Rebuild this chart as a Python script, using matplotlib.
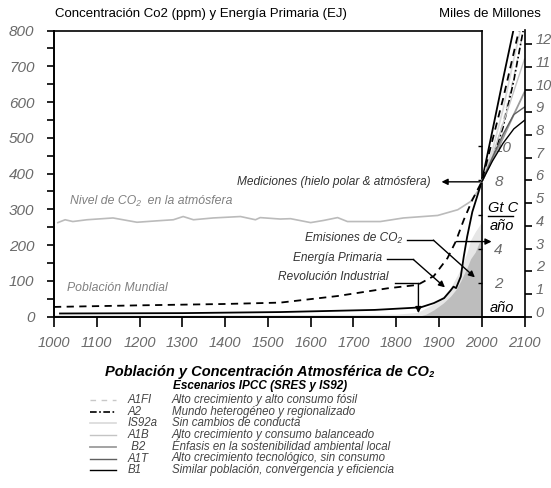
import matplotlib
matplotlib.use("Agg")
import matplotlib.pyplot as plt
from matplotlib.ticker import MultipleLocator, FixedLocator, NullFormatter

plt.rcParams['font.family'] = ['Liberation Sans', 'DejaVu Sans']

# ---------------- data ----------------
# atmospheric CO2 concentration (ppm), ice cores + atmosphere
co2_years = [1009, 1026, 1044, 1077, 1138, 1194, 1241, 1279, 1302, 1326, 1372, 1436,
             1471, 1482, 1529, 1553, 1600, 1630, 1663, 1686, 1763, 1817, 1897, 1944,
             1974, 1993, 2000]
co2_ppm = [263, 271, 266, 271, 276, 264, 268, 271, 280, 271, 276, 280,
           271, 277, 273, 274, 263, 269, 277, 266, 266, 276, 283, 299,
           322, 355, 377]

# primary energy (EJ), history and projection
energy_years = [1014, 1300, 1530, 1750, 1857, 1888, 1912, 1927, 1934, 1940, 1951,
                1958, 1966, 1978, 2000, 2025, 2050, 2075, 2100]
energy_ej = [9, 10, 13, 19, 26, 38, 52, 73, 84, 80, 112,
             168, 224, 293, 377, 520, 665, 806, 950]

# world population (billions), history and projection
pop_years = [1000, 1200, 1400, 1529, 1663, 1780, 1850, 1888, 1920, 1939, 1958,
             1978, 2000, 2050, 2087, 2100]
pop_bn = [0.43, 0.50, 0.56, 0.62, 0.91, 1.25, 1.40, 1.79, 2.58, 3.30, 4.26,
          5.14, 5.94, 9.6, 12.6, 13.4]

# CO2 emissions (Gt C / year)
emis_years = [1850, 1870, 1888, 1910, 1927, 1940, 1951, 1966, 1974, 1985, 1993, 2000]
emis_gtc = [0.0, 0.15, 0.4, 0.8, 1.2, 1.6, 2.1, 2.9, 3.4, 3.8, 4.3, 4.5]
emis_band_years = [1000, 1500, 1800, 1850, 1888, 1910, 1927, 1940, 1951, 1966, 1974,
                   1985, 1993, 2000]
emis_band_gtc = [0.12, 0.12, 0.15, 0.25, 0.75, 1.2, 1.7, 2.3, 2.8, 3.8, 4.5,
                 5.0, 5.3, 5.6]

# IPCC scenarios, CO2 concentration (ppm)
scen_years = [2000, 2025, 2050, 2075, 2100]
scen_codes = ['A1FI', 'A2', 'IS92a', 'A1B', ' B2', 'A1T', 'B1']
scen_desc = ['Alto crecimiento y alto consumo fósil',
             'Mundo heterogéneo y regionalizado',
             'Sin cambios de conducta',
             'Alto crecimiento y consumo balanceado',
             'Énfasis en la sostenibilidad ambiental local',
             'Alto crecimiento tecnológico, sin consumo',
             'Similar población, convergencia y eficiencia']
scen_a1fi = [377, 445, 545, 670, 815]
scen_a2 = [377, 440, 530, 660, 820]
scen_is92a = [377, 465, 580, 720, 850]
scen_a1b = [377, 450, 540, 630, 720]
scen_b2 = [377, 440, 500, 565, 628]
scen_a1t = [377, 445, 510, 565, 586]
scen_b1 = [377, 435, 485, 525, 549]
scen_values = [scen_a1fi, scen_a2, scen_is92a, scen_a1b, scen_b2, scen_a1t, scen_b1]

x_ticks = list(range(1000, 2101, 100))
pop_ticks = list(range(0, 13))

# ---------------- styles ----------------
scen_styles = [
    dict(color='#c8c8c8', lw=1.0, linestyle=(0, (4, 4))),
    dict(color='black', lw=1.2, linestyle=(0, (4, 1.5, 1, 1.5))),
    dict(color='#d9d9d9', lw=1.2, linestyle='-'),
    dict(color='#c4c4c4', lw=1.0, linestyle='-'),
    dict(color='#9c9c9c', lw=1.3, linestyle='-'),
    dict(color='#606060', lw=1.0, linestyle='-'),
    dict(color='black', lw=1.0, linestyle='-'),
]
TICK_GRAY = '#6a6a6a'
PPM_PER_BN = 63.5     # population axis scale relative to left axis
PPM_PER_GTC = 47.6    # emissions axis scale relative to left axis

W, H = 551, 488
fig = plt.figure(figsize=(W / 100, H / 100), dpi=100, facecolor='white')
left_px, right_px, top_px, bot_px = 54, 524.5, 30.5, 316.7
rect = [left_px / W, 1 - bot_px / H, (right_px - left_px) / W, (bot_px - top_px) / H]

ax_em = fig.add_axes(rect)
ax = fig.add_axes(rect)
ax_pop = fig.add_axes(rect)
for a in (ax_em, ax, ax_pop):
    a.set_xlim(1000, 2100)
    a.patch.set_visible(False)

# ---- emissions (inner axis at year 2000) ----
ax_em.set_ylim(0, 800 / PPM_PER_GTC)
ax_em.fill_between(emis_band_years, 0, emis_band_gtc, color='#e6e6e6', lw=0)
ax_em.fill_between(emis_years, 0, emis_gtc, color='#bdbdbd', lw=0)
for s in ('left', 'top', 'bottom'):
    ax_em.spines[s].set_visible(False)
ax_em.spines['right'].set_position(('data', 2000))
ax_em.spines['right'].set_linewidth(1.2)
ax_em.xaxis.set_visible(False)
ax_em.yaxis.tick_right()
ax_em.yaxis.set_major_locator(FixedLocator([2, 4, 6, 8, 10]))
ax_em.set_yticklabels(['2', '4', '', '8', '10'])
ax_em.tick_params(axis='y', direction='in', length=3, width=1, pad=9,
                  labelsize=11, labelcolor=TICK_GRAY)
for t in ax_em.get_yticklabels():
    t.set_fontstyle('italic')

# ---- main axis: ppm / EJ ----
ax.set_ylim(0, 800)
for s in ('top', 'right'):
    ax.spines[s].set_visible(False)
for s in ('left', 'bottom'):
    ax.spines[s].set_linewidth(1.4)
ax.set_xticks(x_ticks)
ax.yaxis.set_major_locator(MultipleLocator(100))
ax.yaxis.set_minor_locator(MultipleLocator(50))
ax.yaxis.set_minor_formatter(NullFormatter())
ax.tick_params(axis='x', direction='out', length=7, width=1.2, pad=7,
               labelsize=10.5, labelcolor=TICK_GRAY)
ax.tick_params(axis='y', which='both', direction='out', length=5, width=1.2, pad=9,
               labelsize=11, labelcolor=TICK_GRAY)
for t in ax.get_xticklabels() + ax.get_yticklabels():
    t.set_fontstyle('italic')
ax.plot([1000, 2000], [800, 800], color='black', lw=1.2, clip_on=False)

ax.plot(co2_years, co2_ppm, color='#bbbbbb', lw=1.2)
ax.plot(energy_years, energy_ej, color='black', lw=1.3)
for vals, st in zip(scen_values, scen_styles):
    ax.plot(scen_years, vals, **st)

# ---- population axis ----
ax_pop.set_ylim(0, 800 / PPM_PER_BN)
ax_pop.plot(pop_years, pop_bn, color='black', lw=1.3, linestyle=(0, (4, 3)))
for s in ('left', 'top', 'bottom'):
    ax_pop.spines[s].set_visible(False)
ax_pop.spines['right'].set_linewidth(1.2)
ax_pop.xaxis.set_visible(False)
ax_pop.yaxis.tick_right()
ax_pop.set_yticks(pop_ticks)
ax_pop.tick_params(axis='y', direction='out', length=5, width=1.2, pad=3,
                   labelsize=10.5, labelcolor=TICK_GRAY)
for t in ax_pop.get_yticklabels():
    t.set_fontstyle('italic')
    t.set_verticalalignment('baseline')

# ---------------- annotations ----------------
ANN = dict(fontsize=8.6, fontstyle='italic', color='#333333')
arrow = dict(arrowstyle='-|>', color='black', lw=1.0, shrinkA=0, shrinkB=0,
             mutation_scale=9)

ax.text(1037, 324, 'Nivel de CO₂  en la atmósfera', ha='left', va='center',
        fontsize=8.8, fontstyle='italic', color='#808080')
ax.text(1030, 79, 'Población Mundial', ha='left', va='center',
        fontsize=8.8, fontstyle='italic', color='#808080')

ax.text(1880, 377, 'Mediciones (hielo polar & atmósfera)', ha='right', va='center', **ANN)
ax.annotate('', xy=(1906, 377), xytext=(1996, 377), arrowprops=arrow)

ax.text(1813, 219, 'Emisiones de CO₂', ha='right', va='center', **ANN)
ax.plot([1825, 1887], [214, 214], color='black', lw=1.0)
ax.annotate('', xy=(1984, 110), xytext=(1887, 214), arrowprops=arrow)

ax.text(1766, 163, 'Energía Primaria', ha='right', va='center', **ANN)
ax.plot([1778, 1840], [160, 160], color='black', lw=1.0)
ax.annotate('', xy=(1914, 82), xytext=(1840, 160), arrowprops=arrow)

ax.text(1782, 110, 'Revolución Industrial', ha='right', va='center', **ANN)
ax.plot([1797, 1852], [93, 93], color='black', lw=1.0)
ax.annotate('', xy=(1852, 10), xytext=(1852, 93), arrowprops=arrow)

ax.annotate('', xy=(2023, 210), xytext=(1941, 210), arrowprops=arrow)

ax.text(2015, 304, 'Gt C', ha='left', va='center', fontsize=10.5,
        fontstyle='italic', color='black')
ax.plot([2015, 2073], [281, 281], color='black', lw=1.0)
ax.text(2018, 253, 'año', ha='left', va='center', fontsize=10.5,
        fontstyle='italic', color='black')
ax.text(2019, 24, 'año', ha='left', va='center', fontsize=10.5,
        fontstyle='italic', color='black')

# ---------------- titles and scenario key ----------------
fig.text(55 / W, 1 - 14 / H, 'Concentración Co2 (ppm) y Energía Primaria (EJ)',
         ha='left', va='center', fontsize=9.5, color='black')
fig.text(541 / W, 1 - 14 / H, 'Miles de Millones', ha='right', va='center',
         fontsize=9.5, color='black')
fig.text(270 / W, 1 - 372 / H, 'Población y Concentración Atmosférica de CO₂',
         ha='center', va='center', fontsize=10.5, fontweight='bold',
         fontstyle='italic')
fig.text(260 / W, 1 - 386 / H, 'Escenarios IPCC (SRES y IS92)', ha='center',
         va='center', fontsize=8.5, fontweight='bold', fontstyle='italic')

key = fig.add_axes([0, 0, 1, 1])
key.set_xlim(0, W)
key.set_ylim(H, 0)
key.axis('off')
key.patch.set_visible(False)
row0, step = 400, 11.7
for i, (code, desc, st) in enumerate(zip(scen_codes, scen_desc, scen_styles)):
    y = row0 + i * step
    key.plot([90, 116], [y, y], **st)
    key.text(128, y, code, ha='left', va='center', fontsize=8.3,
             fontstyle='italic', color='#444444')
    key.text(172, y, desc, ha='left', va='center', fontsize=8.3,
             fontstyle='italic', color='#444444')

fig.savefig('out.png', dpi=100, facecolor='white')
